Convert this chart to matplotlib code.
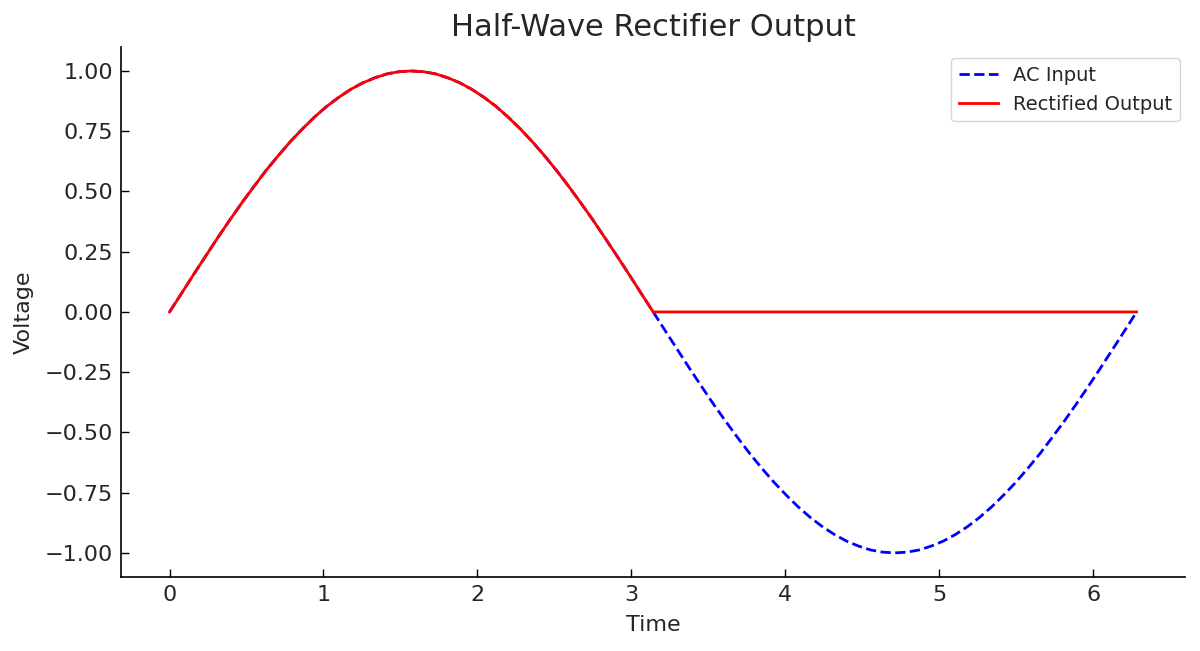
import matplotlib
matplotlib.use("Agg")
import matplotlib.pyplot as plt

time = [0.000, 0.079, 0.157, 0.236, 0.314, 0.393, 0.471, 0.550, 0.628, 0.707,
        0.785, 0.864, 0.942, 1.021, 1.100, 1.178, 1.257, 1.335, 1.414, 1.492,
        1.571, 1.649, 1.728, 1.806, 1.885, 1.963, 2.042, 2.121, 2.199, 2.278,
        2.356, 2.435, 2.513, 2.592, 2.670, 2.749, 2.827, 2.906, 2.985, 3.063,
        3.142, 3.220, 3.299, 3.377, 3.456, 3.534, 3.613, 3.691, 3.770, 3.848,
        3.927, 4.006, 4.084, 4.163, 4.241, 4.320, 4.398, 4.477, 4.555, 4.634,
        4.712, 4.791, 4.869, 4.948, 5.027, 5.105, 5.184, 5.262, 5.341, 5.419,
        5.498, 5.576, 5.655, 5.733, 5.812, 5.890, 5.969, 6.048, 6.126, 6.205, 6.283]
ac_input = [0.000, 0.078, 0.156, 0.233, 0.309, 0.383, 0.454, 0.522, 0.588, 0.649,
            0.707, 0.760, 0.809, 0.853, 0.891, 0.924, 0.951, 0.972, 0.988, 0.997,
            1.000, 0.997, 0.988, 0.972, 0.951, 0.924, 0.891, 0.853, 0.809, 0.760,
            0.707, 0.649, 0.588, 0.522, 0.454, 0.383, 0.309, 0.233, 0.156, 0.078,
            0.000, -0.078, -0.156, -0.233, -0.309, -0.383, -0.454, -0.522, -0.588, -0.649,
            -0.707, -0.760, -0.809, -0.853, -0.891, -0.924, -0.951, -0.972, -0.988, -0.997,
            -1.000, -0.997, -0.988, -0.972, -0.951, -0.924, -0.891, -0.853, -0.809, -0.760,
            -0.707, -0.649, -0.588, -0.522, -0.454, -0.383, -0.309, -0.233, -0.156, -0.078, 0.000]
rectified = [0.000, 0.078, 0.156, 0.233, 0.309, 0.383, 0.454, 0.522, 0.588, 0.649,
             0.707, 0.760, 0.809, 0.853, 0.891, 0.924, 0.951, 0.972, 0.988, 0.997,
             1.000, 0.997, 0.988, 0.972, 0.951, 0.924, 0.891, 0.853, 0.809, 0.760,
             0.707, 0.649, 0.588, 0.522, 0.454, 0.383, 0.309, 0.233, 0.156, 0.078,
             0.000, 0.000, 0.000, 0.000, 0.000, 0.000, 0.000, 0.000, 0.000, 0.000,
             0.000, 0.000, 0.000, 0.000, 0.000, 0.000, 0.000, 0.000, 0.000, 0.000,
             0.000, 0.000, 0.000, 0.000, 0.000, 0.000, 0.000, 0.000, 0.000, 0.000,
             0.000, 0.000, 0.000, 0.000, 0.000, 0.000, 0.000, 0.000, 0.000, 0.000, 0.000]
y_ticks = [-1.0, -0.75, -0.5, -0.25, 0.0, 0.25, 0.5, 0.75, 1.0]

text_color = "#262626"
plt.rcParams["font.family"] = ["DejaVu Sans"]
plt.rcParams["axes.unicode_minus"] = True

fig = plt.figure(figsize=(12, 6.51), dpi=100)
ax = fig.add_axes([0.101, 0.1137, 0.8865, 0.8143])

ax.plot(time, ac_input, color="blue", linestyle="--", linewidth=2, label="AC Input")
ax.plot(time, rectified, color="red", linestyle="-", linewidth=2, label="Rectified Output")

ax.set_title("Half-Wave Rectifier Output", fontsize=22, color=text_color, pad=8)
ax.set_xlabel("Time", fontsize=16, color=text_color, labelpad=7)
ax.set_ylabel("Voltage", fontsize=16, color=text_color, labelpad=8)

ax.set_yticks(y_ticks)
ax.yaxis.set_major_formatter(matplotlib.ticker.StrMethodFormatter("{x:.2f}"))
ax.tick_params(direction="in", labelsize=16, labelcolor=text_color, length=6, width=1, pad=6)

for s in ["top", "right"]:
    ax.spines[s].set_visible(False)
for s in ["left", "bottom"]:
    ax.spines[s].set_linewidth(1.2)

leg = ax.legend(loc="upper right", fontsize=14, frameon=True, borderaxespad=0,
                bbox_to_anchor=(0.9953, 0.979))
for t in leg.get_texts():
    t.set_color(text_color)

fig.savefig("out.png", dpi=100)
